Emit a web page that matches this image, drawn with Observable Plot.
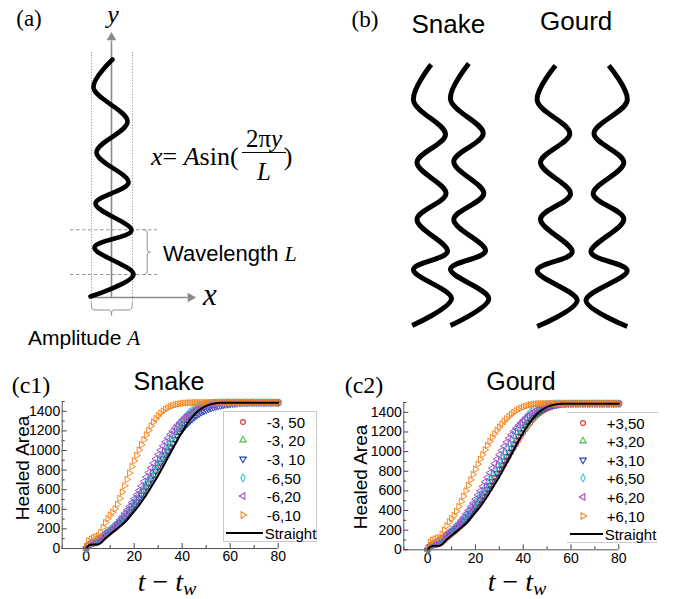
<!DOCTYPE html>
<html><head><meta charset="utf-8">
<script src="https://cdn.jsdelivr.net/npm/d3@7"></script>
<script src="https://cdn.jsdelivr.net/npm/@observablehq/plot@0.6"></script>
<style>
body{margin:0;background:#fff;}
#fig{position:relative;width:676px;height:599px;overflow:hidden;background:#fff;font-family:"Liberation Sans",Arial,sans-serif;color:#000;}
.abs{position:absolute;white-space:nowrap;line-height:1;}
.serif{font-family:"Liberation Serif","Times New Roman",serif;}
svg{overflow:visible;}
</style></head><body><div id="fig"></div>
<script>
// ---------------- DATA ----------------
// time grid t - t_w
const tGrid = d3.range(0, 81);

// Straight channel (black line), shared by both panels
const straightArea = [
  0,30,38,40,40,42,55,80,105,125,
  145,165,185,205,225,245,265,290,320,350,
  380,410,440,475,510,545,585,625,665,705,
  745,790,835,880,925,970,1015,1060,1105,1150,
  1190,1230,1270,1305,1335,1365,1390,1410,1428,1443,
  1455,1465,1472,1478,1482,1485,1487,1488,1488,1488,
  1488,1488,1488,1488,1488,1488,1488,1488,1488,1488,
  1488,1488,1488,1488,1488,1488,1488,1488,1488,1488,
  1488];

// (c1) Snake series
const snakeLabels = ["-3, 50","-3, 20","-3, 10","-6,50","-6,20","-6,10"];
const snakeM3_50 = [
  0,32,45,50,55,62,78,100,122,142,
  162,182,202,222,244,266,290,318,348,380,
  412,444,478,514,550,588,628,668,710,752,
  795,840,885,930,975,1020,1065,1110,1152,1195,
  1235,1272,1308,1340,1368,1392,1412,1430,1445,1457,
  1466,1473,1478,1482,1485,1487,1488,1488,1488,1488,
  1488,1488,1488,1488,1488,1488,1488,1488,1488,1488,
  1488,1488,1488,1488,1488,1488,1488,1488,1488,1488,
  1488];
const snakeM3_20 = [
  0,35,50,58,65,75,92,115,138,158,
  178,198,218,240,262,286,312,342,374,407,
  440,474,510,547,585,625,666,708,750,793,
  837,882,927,972,1017,1062,1106,1149,1190,1230,
  1268,1303,1335,1363,1388,1409,1427,1442,1454,1464,
  1471,1477,1481,1484,1486,1487,1488,1488,1488,1488,
  1488,1488,1488,1488,1488,1488,1488,1488,1488,1488,
  1488,1488,1488,1488,1488,1488,1488,1488,1488,1488,
  1488];
const snakeM3_10 = [
  0,33,48,55,62,72,90,112,135,155,
  175,195,215,237,260,284,310,340,372,405,
  438,472,508,545,583,622,662,703,745,788,
  830,872,914,955,995,1035,1073,1110,1145,1178,
  1210,1240,1268,1293,1316,1337,1356,1373,1388,1401,
  1413,1423,1432,1440,1447,1453,1458,1463,1467,1470,
  1473,1476,1478,1480,1482,1483,1484,1485,1486,1486,
  1487,1487,1487,1487,1487,1487,1487,1487,1487,1487,
  1487];
const snakeM6_50 = [
  0,38,55,65,75,88,108,132,155,176,
  197,218,240,263,287,313,341,372,405,440,
  476,513,551,590,630,671,713,756,800,845,
  890,935,980,1025,1070,1113,1155,1196,1235,1272,
  1306,1337,1365,1390,1411,1429,1444,1456,1465,1472,
  1477,1481,1484,1486,1487,1488,1488,1488,1488,1488,
  1488,1488,1488,1488,1488,1488,1488,1488,1488,1488,
  1488,1488,1488,1488,1488,1488,1488,1488,1488,1488,
  1488];
const snakeM6_20 = [
  0,40,60,72,85,100,118,138,155,170,
  185,205,230,260,292,325,360,395,430,468,
  508,550,593,638,684,730,777,824,870,915,
  960,1004,1047,1088,1127,1164,1198,1230,1260,1287,
  1312,1335,1356,1375,1392,1408,1421,1433,1443,1452,
  1459,1465,1470,1474,1477,1480,1482,1484,1485,1486,
  1487,1487,1488,1488,1488,1488,1488,1488,1488,1488,
  1488,1488,1488,1488,1488,1488,1488,1488,1488,1488,
  1488];
const snakeM6_10 = [
  20,80,95,110,120,130,165,215,265,305,
  340,370,405,450,510,575,640,705,770,835,
  895,950,1005,1060,1110,1160,1205,1250,1290,1325,
  1355,1380,1402,1420,1435,1447,1457,1465,1472,1477,
  1481,1484,1486,1487,1488,1489,1490,1490,1490,1490,
  1490,1490,1490,1490,1490,1490,1490,1490,1490,1490,
  1490,1490,1490,1490,1490,1490,1490,1490,1490,1490,
  1490,1490,1490,1490,1490,1490,1490,1490,1490,1490,
  1490];

// (c2) Gourd series
const gourdLabels = ["+3,50","+3,20","+3,10","+6,50","+6,20","+6,10"];
const gourdP3_50 = [
  0,30,40,45,50,58,72,95,118,138,
  158,178,198,220,242,265,290,318,348,378,
  410,442,476,511,547,584,622,661,700,740,
  780,822,864,906,948,990,1032,1073,1113,1152,
  1190,1226,1260,1292,1321,1347,1370,1390,1407,1422,
  1435,1446,1455,1463,1469,1474,1478,1481,1483,1485,
  1486,1487,1488,1488,1488,1488,1488,1488,1488,1488,
  1488,1488,1488,1488,1488,1488,1488,1488,1488,1488,
  1488];
const gourdP3_20 = [
  0,33,45,52,60,70,88,110,132,152,
  172,192,213,235,258,282,308,336,366,398,
  431,465,500,536,573,611,650,690,731,773,
  815,858,901,944,987,1029,1070,1110,1149,1186,
  1222,1256,1288,1317,1344,1368,1389,1407,1423,1436,
  1447,1456,1463,1469,1474,1478,1481,1483,1485,1486,
  1487,1488,1488,1488,1488,1488,1488,1488,1488,1488,
  1488,1488,1488,1488,1488,1488,1488,1488,1488,1488,
  1488];
const gourdP3_10 = [
  0,35,50,58,66,76,94,116,138,158,
  178,198,219,241,264,288,314,342,372,404,
  437,471,506,542,579,617,656,696,737,779,
  821,864,907,950,993,1035,1076,1116,1155,1192,
  1228,1262,1294,1323,1350,1374,1395,1413,1428,1441,
  1452,1461,1468,1473,1477,1480,1483,1485,1486,1487,
  1488,1488,1488,1488,1488,1488,1488,1488,1488,1488,
  1488,1488,1488,1488,1488,1488,1488,1488,1488,1488,
  1488];
const gourdP6_50 = [
  0,38,55,66,77,90,110,134,157,178,
  199,221,244,268,293,320,349,380,413,448,
  484,521,559,598,638,679,721,764,808,853,
  898,943,988,1033,1077,1120,1162,1202,1241,1278,
  1313,1346,1375,1400,1421,1438,1452,1463,1471,1477,
  1481,1484,1486,1487,1488,1488,1488,1488,1488,1488,
  1488,1488,1488,1488,1488,1488,1488,1488,1488,1488,
  1488,1488,1488,1488,1488,1488,1488,1488,1488,1488,
  1488];
const gourdP6_20 = [
  0,42,62,75,88,103,122,142,160,176,
  192,212,237,267,299,332,367,402,438,476,
  516,558,601,646,692,738,785,832,878,923,
  968,1012,1055,1096,1135,1172,1206,1238,1268,1295,
  1320,1343,1364,1383,1400,1415,1428,1439,1449,1457,
  1464,1469,1473,1477,1480,1482,1484,1485,1486,1487,
  1488,1488,1488,1488,1488,1488,1488,1488,1488,1488,
  1488,1488,1488,1488,1488,1488,1488,1488,1488,1488,
  1488];
const gourdP6_10 = [
  15,78,98,110,118,125,158,200,245,285,
  318,350,392,440,492,545,600,656,712,766,
  820,872,922,970,1017,1062,1105,1145,1182,1217,
  1250,1281,1309,1335,1358,1380,1399,1416,1430,1443,
  1454,1463,1470,1476,1481,1485,1488,1489,1490,1490,
  1490,1490,1490,1490,1490,1490,1490,1490,1490,1490,
  1490,1490,1490,1490,1490,1490,1490,1490,1490,1490,
  1490,1490,1490,1490,1490,1490,1490,1490,1490,1490,
  1490];

// axis ticks
const xMajorTicks = [0, 20, 40, 60, 80];
const xMinorTicks = [-10, 10, 30, 50, 70];
const yMajorTicks = [0, 200, 400, 600, 800, 1000, 1200, 1400];
const yMinorTicks = [100, 300, 500, 700, 900, 1100, 1300, 1500];

// styles (kept apart from data)
const seriesColors = ["#e6332a", "#45bf45", "#2a3fae", "#3cc6dc", "#a24fc4", "#f5861f"];
const seriesSymbols = ["circle", "triangle", "triangle", "diamond", "triangle", "triangle"];
const seriesRotations = [0, 0, 180, 0, -90, 90];

// ---------- schematic diagram geometry (diagram units) ----------
// (a) sine wire: end points and crests
const waveA = [[112,59],[93,87],[127,121],[96,152],[128,182],[95,203],[131,230],[94,247],[133,274],[90,296]];
// (b) snake pair and gourd pair
const snakeWireL = [[430.7,64],[413,100],[445,134],[416.5,162],[445.5,193],[416.5,219],[447,251],[413,269],[451,298],[411.7,325]];
const snakeWireR = [[468.3,63],[450,99],[482.7,133],[453.3,161],[483.3,193],[453.3,219],[485,250.5],[450,268.5],[488.3,298.3],[450,325]];
const gourdWireL = [[555,65],[536.7,100],[569.3,133],[540,162],[570,193.3],[540,218.5],[571.7,251.7],[536.7,270],[576.7,300],[536.7,326]];
const gourdWireR = [[608.3,65],[626.7,100],[593.5,133],[623.3,162],[592.7,193.3],[623.3,218.5],[590.5,251.7],[626.7,270],[585.5,300],[626.7,326]];

// ---------------- BUILD ----------------
const fig = document.getElementById("fig");
function label(html, x, y, css, anchor = "middle", rot = 0) {
  const d = document.createElement("div");
  d.className = "abs";
  d.innerHTML = html;
  d.style.cssText += css;
  d.style.left = x + "px";
  d.style.top = y + "px";
  const tx = anchor === "start" ? "0" : anchor === "end" ? "-100%" : "-50%";
  d.style.transform = rot ? `translate(-50%,-50%) rotate(${rot}deg)` : `translate(${tx},-50%)`;
  fig.appendChild(d);
  return d;
}
function put(node, left, top) {
  node.style.position = "absolute";
  node.style.left = left + "px";
  node.style.top = top + "px";
  fig.appendChild(node);
}

// ---- top diagram (a) & (b)
const toLine = arr => arr.map(([x, y]) => ({x, y}));
const braceV = [[143.3,229.3],[146.7,229.8],[146.7,234],[146.7,248],[146.7,251.7],[151.7,251.7],[146.7,251.7],[146.7,255.5],[146.7,270],[146.7,273.5],[143.3,274]];
const braceH = [[90.8,303],[91.2,309.5],[95,309.5],[108,309.5],[111,309.5],[111,317.5],[111,309.5],[114,309.5],[127,309.5],[131.5,309.5],[131.9,303]];
const diagram = Plot.plot({
  width: 676, height: 350,
  margin: 0,
  x: {domain: [0, 676], axis: null},
  y: {domain: [350, 0], axis: null},
  style: {background: "transparent", overflow: "visible"},
  marks: [
    Plot.ruleX([91, 132], {y1: 52, y2: 303, stroke: "#8c8c8c", strokeWidth: 0.9, strokeDasharray: "1.2,1.6"}),
    Plot.ruleY([229.3, 274], {x1: 70, x2: 157, stroke: "#8c8c8c", strokeWidth: 0.9, strokeDasharray: "3.5,2.5"}),
    Plot.link([{x1:111,y1:297,x2:111,y2:40},{x1:90,y1:297,x2:187,y2:297}], {x1:"x1", y1:"y1", x2:"x2", y2:"y2", stroke: "#8a8a8a", strokeWidth: 1.6}),
    Plot.dot([{x:111,y:37,r:0},{x:190,y:297,r:90}], {x:"x", y:"y", rotate:"r", symbol:"triangle", r: 3.6, fill:"#8a8a8a", stroke:"none"}),
    Plot.line(toLine(waveA), {x:"x", y:"y", curve:"catmull-rom", stroke:"#000", strokeWidth: 4.6, strokeLinecap:"round"}),
    Plot.line(toLine(braceV), {x:"x", y:"y", curve:"basis", stroke:"#8c8c8c", strokeWidth: 1}),
    Plot.line(toLine(braceH), {x:"x", y:"y", curve:"basis", stroke:"#8c8c8c", strokeWidth: 1}),
    ...[snakeWireL, snakeWireR, gourdWireL, gourdWireR].map(w =>
      Plot.line(toLine(w), {x:"x", y:"y", curve:"catmull-rom", stroke:"#000", strokeWidth: 5, strokeLinecap:"butt"}))
  ]
});
put(diagram, 0, 0);

// texts of (a)
label("(a)", 29, 18, "font-size:23px;").classList.add("serif");
label("<i>y</i>", 113, 15, "font-size:26px;line-height:0.8;").classList.add("serif");
label("<i>x</i>", 210, 294, "font-size:31px;").classList.add("serif");
label("<i>x</i>= <i>A</i>sin(", 151, 157, "font-size:26px;", "start").classList.add("serif");
label("2π<i>y</i>", 264, 138, "font-size:25px;").classList.add("serif");
label("<i>L</i>", 264, 171, "font-size:25px;").classList.add("serif");
label(")", 288, 157, "font-size:26px;").classList.add("serif");
const bar = document.createElement("div");
bar.style.cssText = "position:absolute;left:242px;top:152px;width:44px;height:0;border-top:1.4px solid #000;";
fig.appendChild(bar);
label('Wavelength <i class="serif">L</i>', 163, 254, "font-size:22px;", "start");
label('Amplitude <i class="serif">A</i>', 28, 338, "font-size:21px;", "start");

// texts of (b)
label("(b)", 365, 19, "font-size:23px;").classList.add("serif");
label("Snake", 411.5, 24, "font-size:26px;", "start");
label("Gourd", 540, 21, "font-size:26px;", "start");

// ---- (c) panels
function legendSymbol(sym, rot, color) {
  const types = {circle: d3.symbolCircle, triangle: d3.symbolTriangle, diamond: d3.symbolDiamond};
  const p = d3.symbol(types[sym], 18)();
  return `<svg width="12" height="12" viewBox="-6 -6 12 12" style="display:block"><path d="${p}" transform="rotate(${rot})" fill="none" stroke="${color}" stroke-width="1.1"/></svg>`;
}

function panel(cfg) {
  const {left, top, width, height, mL, mR, mT, mB, arrays} = cfg;
  const plotW = width - mL - mR, plotH = height - mT - mB;
  const marks = [
    Plot.tickY(yMajorTicks, {y: d => d, insetRight: plotW - 5, stroke: "#444", strokeWidth: 1}),
    Plot.tickY(yMinorTicks, {y: d => d, insetRight: plotW - 3, stroke: "#444", strokeWidth: 1}),
    Plot.tickX(xMajorTicks, {x: d => d, insetTop: plotH - 5, stroke: "#444", strokeWidth: 1}),
    Plot.tickX(xMinorTicks, {x: d => d, insetTop: plotH - 3, stroke: "#444", strokeWidth: 1}),
    Plot.axisY(yMajorTicks, {tickSize: 0, tickPadding: 2, label: null, fontSize: 14, tickFormat: d => String(d)}),
    Plot.axisX(xMajorTicks, {tickSize: 0, tickPadding: 3, label: null, fontSize: 14, tickFormat: d => String(d)}),
  ];
  arrays.forEach((vals, i) => {
    marks.push(Plot.dot(vals.map((v, k) => ({t: tGrid[k], v})), {
      x: "t", y: "v", symbol: seriesSymbols[i], rotate: seriesRotations[i],
      stroke: seriesColors[i], fill: "none", r: 2.4, strokeWidth: 1
    }));
  });
  marks.push(Plot.line(straightArea.map((v, k) => ({t: tGrid[k], v})), {x: "t", y: "v", stroke: "#000", strokeWidth: 2}));
  marks.push(Plot.ruleX([-10], {stroke: "#555", strokeWidth: 1}));
  marks.push(Plot.ruleY([0], {stroke: "#555", strokeWidth: 1}));
  const chart = Plot.plot({
    width, height,
    marginLeft: mL, marginRight: mR, marginTop: mT, marginBottom: mB,
    x: {domain: [-10, 80]},
    y: {domain: [0, 1500]},
    style: {background: "transparent", fontFamily: '"Liberation Sans", Arial, sans-serif', color: "#000", overflow: "visible"},
    marks
  });
  put(chart, left, top);
}

panel({left: 0, top: 360, width: 338, height: 239, mL: 61.7, mR: 60.3, mT: 41, mB: 51,
  arrays: [snakeM3_50, snakeM3_20, snakeM3_10, snakeM6_50, snakeM6_20, snakeM6_10]});
panel({left: 340, top: 360, width: 336, height: 239, mL: 63.3, mR: 57.7, mT: 42, mB: 49.7,
  arrays: [gourdP3_50, gourdP3_20, gourdP3_10, gourdP6_50, gourdP6_20, gourdP6_10]});

// legends
function legend(labels, boxLeft, boxRight, boxTop, boxBottom, markerX, textX, firstY, step, fullBox) {
  const box = document.createElement("div");
  box.style.cssText = `position:absolute;left:${boxLeft}px;top:${boxTop}px;width:${boxRight-boxLeft}px;height:${boxBottom-boxTop}px;box-sizing:border-box;border-top:1px solid #c8c8c8;border-bottom:1px solid #c8c8c8;${fullBox ? "border-left:1px solid #c8c8c8;border-right:1px solid #c8c8c8;" : ""}background:#fff;`;
  fig.appendChild(box);
  labels.forEach((lab, i) => {
    const y = firstY + i * step;
    const s = document.createElement("div");
    s.innerHTML = legendSymbol(seriesSymbols[i], seriesRotations[i], seriesColors[i]);
    s.style.cssText = `position:absolute;left:${markerX - 6}px;top:${y - 6}px;`;
    fig.appendChild(s);
    label(lab, textX, y, "font-size:15px;", "start");
  });
  const y = firstY + labels.length * step;
  const ln = document.createElement("div");
  ln.style.cssText = `position:absolute;left:${boxLeft + 3}px;top:${y - 1}px;width:${textX - boxLeft - 7}px;height:2px;background:#000;`;
  fig.appendChild(ln);
  label("Straight", textX - 2, y, "font-size:15px;", "start");
}
legend(snakeLabels, 222.7, 316.7, 410.7, 541.7, 242.7, 266.7, 421.7, 18.6, true);
legend(gourdLabels, 566.7, 658.3, 411.7, 542.7, 582.7, 606.7, 422.5, 18.6, false);

// titles and axis labels of (c)
label("(c1)", 31, 385, "font-size:24px;").classList.add("serif");
label("Snake", 169, 381, "font-size:25px;");
label("(c2)", 364, 385, "font-size:24px;").classList.add("serif");
label("Gourd", 521, 381, "font-size:25px;");
label("Healed Area", 21.5, 468, "font-size:19px;", "middle", -90);
label("Healed Area", 360, 477, "font-size:19px;", "middle", -90);
const xLab = "<i>t</i> − <i>t<sub style='font-size:0.7em;vertical-align:-0.22em;line-height:1'>w</sub></i>";
label(xLab, 167, 583, "font-size:28px;line-height:1.05;").classList.add("serif");
label(xLab, 517, 583, "font-size:28px;line-height:1.05;").classList.add("serif");
</script></body></html>
